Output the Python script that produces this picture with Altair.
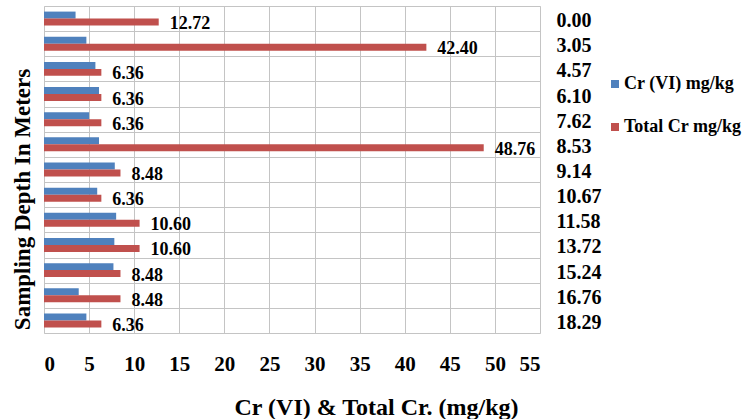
import altair as alt
import pandas as pd

depths = ["0.00", "3.05", "4.57", "6.10", "7.62", "8.53", "9.14",
          "10.67", "11.58", "13.72", "15.24", "16.76", "18.29"]
cr_vi = [3.5, 4.7, 5.7, 6.1, 5.0, 6.1, 7.85, 5.9, 8.0, 7.8, 7.7, 3.85, 4.7]
total_cr = [12.72, 42.40, 6.36, 6.36, 6.36, 48.76, 8.48, 6.36, 10.60, 10.60, 8.48, 8.48, 6.36]
series = ["Cr (VI) mg/kg", "Total Cr mg/kg"]
colors = ["#4F81BD", "#C0504D"]

rows = []
for d, a, b in zip(depths, cr_vi, total_cr):
    rows.append({"depth": d, "series": series[0], "value": a})
    rows.append({"depth": d, "series": series[1], "value": b})
df = pd.DataFrame(rows)

FONT = "Liberation Serif"
W, H = 496, 327

y_enc = alt.Y(
    "depth:N", sort=depths,
    scale=alt.Scale(paddingInner=0, paddingOuter=0),
    axis=alt.Axis(
        orient="right", title="Sampling Depth In Meters",
        titleX=22 - (44 + W), titleY=193, titleAngle=270,
        titleAlign="center", titleBaseline="middle",
        titleFont=FONT, titleFontSize=23, titleFontWeight="bold", titleColor="black",
        labelFont=FONT, labelFontSize=20, labelFontWeight="bold", labelColor="black",
        labelPadding=16, labelOffset=2, ticks=False, tickSize=0, domain=False,
        grid=True, tickBand="extent", gridColor="#c4c4c4", gridWidth=1,
    ),
)
yoff = alt.YOffset("series:N", sort=series,
                   scale=alt.Scale(domain=series, paddingOuter=0.8, paddingInner=0))

x_enc = alt.X(
    "value:Q",
    scale=alt.Scale(domain=[0, 55], nice=False),
    axis=alt.Axis(
        values=list(range(0, 60, 5)), title="Cr (VI) & Total Cr. (mg/kg)",
        titleX=332, titleY=74, titleAlign="center", titleBaseline="middle",
        titleFont=FONT, titleFontSize=24, titleFontWeight="bold", titleColor="black",
        labelFont=FONT, labelFontSize=21, labelFontWeight="bold", labelColor="black",
        labelBaseline="middle", labelPadding=31, ticks=False, tickSize=0, domain=False,
        grid=True, gridColor="#c4c4c4", gridWidth=1,
    ),
)

bars = alt.Chart(df).mark_bar().encode(
    x=x_enc,
    y=y_enc,
    yOffset=yoff,
    color=alt.Color(
        "series:N", sort=series,
        scale=alt.Scale(domain=series, range=colors),
        legend=alt.Legend(
            title=None, orient="none", legendX=562, legendY=69,
            symbolType="square", symbolSize=64, symbolStrokeWidth=0,
            labelFont=FONT, labelFontSize=18, labelFontWeight="bold", labelColor="black",
            labelOffset=0, rowPadding=25, padding=0,
        ),
    ),
)

labels = alt.Chart(df).transform_filter(
    alt.datum.series == series[1]
).mark_text(
    align="left", baseline="middle", dx=11, dy=2,
    font=FONT, fontSize=18, fontWeight="bold", color="black",
).encode(
    x=alt.X("value:Q"),
    y=alt.Y("depth:N", sort=depths),
    yOffset=yoff,
    text=alt.Text("value:Q", format=".2f"),
)

chart = alt.layer(bars, labels).properties(
    width=W, height=H,
    autosize=alt.AutoSizeParams(type="none"),
    padding={"left": 44, "top": 6, "right": 210, "bottom": 86},
).configure_view(stroke="#b0b0b0", strokeWidth=1).configure(background="white")

chart.save("out.html", embed_options={"renderer": "svg", "actions": False})
